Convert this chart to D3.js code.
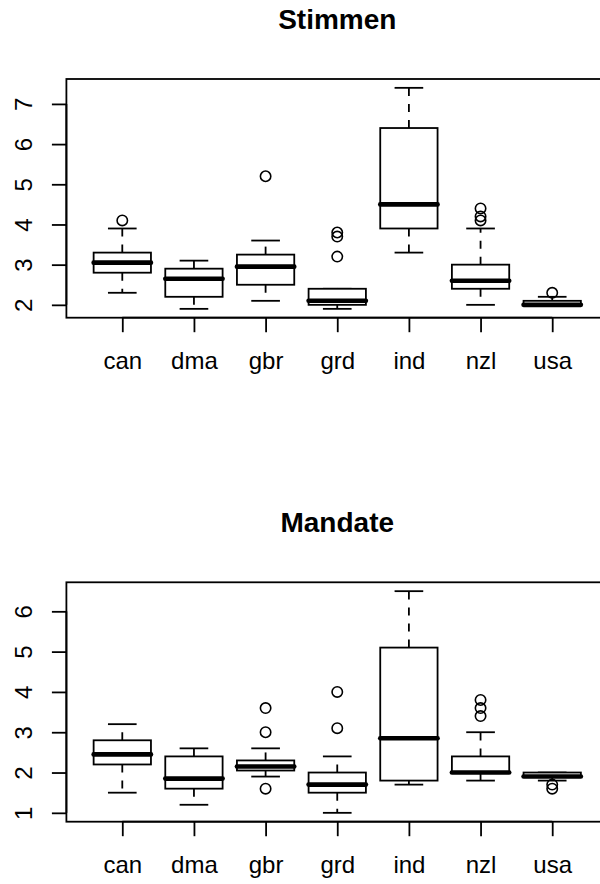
<!DOCTYPE html>
<html><head><meta charset="utf-8">
<script src="https://cdn.jsdelivr.net/npm/d3@7"></script>
<style>html,body{margin:0;padding:0;background:#fff;}svg{display:block;}</style>
</head><body>
<script>
const categories = ["can","dma","gbr","grd","ind","nzl","usa"];
// Stimmen: lower whisker, Q1, median, Q3, upper whisker
const stimmenLow    = [2.3, 1.9, 2.1, 1.9, 3.3, 2.0, 2.0];
const stimmenQ1     = [2.8, 2.2, 2.5, 2.0, 3.9, 2.4, 2.0];
const stimmenMedian = [3.05,2.65,2.95,2.1, 4.5, 2.6, 2.0];
const stimmenQ3     = [3.3, 2.9, 3.25,2.4, 6.4, 3.0, 2.1];
const stimmenHigh   = [3.9, 3.1, 3.6, 2.4, 7.4, 3.9, 2.2];
const stimmenOut    = [[4.1],[],[5.2],[3.2,3.7,3.8],[],[4.1,4.2,4.4],[2.3]];
// Mandate
const mandateLow    = [1.5, 1.2, 1.9, 1.0, 1.7, 1.8, 1.8];
const mandateQ1     = [2.2, 1.6, 2.05,1.5, 1.8, 2.0, 1.9];
const mandateMedian = [2.45,1.85,2.15,1.7, 2.85,2.0, 1.9];
const mandateQ3     = [2.8, 2.4, 2.3, 2.0, 5.1, 2.4, 2.0];
const mandateHigh   = [3.2, 2.6, 2.6, 2.4, 6.5, 3.0, 2.0];
const mandateOut    = [[],[],[1.6,3.0,3.6],[3.1,4.0],[],[3.4,3.6,3.8],[1.6,1.7]];
const stimmenTicks = [2,3,4,5,6,7];
const mandateTicks = [1,2,3,4,5,6];

const W = 600, H = 884;
const svg = d3.select("body").append("svg").attr("width", W).attr("height", H);
svg.append("rect").attr("width", W).attr("height", H).attr("fill", "#fff");

const FONT = "'Liberation Sans', Arial, Helvetica, sans-serif";
const LW = 1.8;

function panel(opt) {
  const {title, top, bottom, yDomain, ticks, low, q1, med, q3, high, outs} = opt;
  const x = d3.scaleLinear().domain([0.22, 7.78]).range([66.4, 608.1]);
  const y = d3.scaleLinear().domain(yDomain).range([bottom, top]);
  const g = svg.append("g");
  const step = x(2) - x(1);
  const bw = 0.8 * step, sw = 0.5 * bw;

  // title
  g.append("text").attr("x", (x.range()[0] + x.range()[1]) / 2).attr("y", top - 50.3)
    .attr("text-anchor", "middle").attr("font-family", FONT).attr("font-weight", "bold")
    .attr("font-size", 28).text(title);

  categories.forEach((c, i) => {
    const cx = x(i + 1);
    const bg = g.append("g").attr("stroke", "#000").attr("fill", "none");
    // whiskers (dashed)
    bg.append("line").attr("x1", cx).attr("x2", cx).attr("y1", y(q3[i])).attr("y2", y(high[i]))
      .attr("stroke-width", LW).attr("stroke-dasharray", "8,8");
    bg.append("line").attr("x1", cx).attr("x2", cx).attr("y1", y(q1[i])).attr("y2", y(low[i]))
      .attr("stroke-width", LW).attr("stroke-dasharray", "8,8");
    // staples
    [low[i], high[i]].forEach(v => {
      bg.append("line").attr("x1", cx - sw / 2).attr("x2", cx + sw / 2)
        .attr("y1", y(v)).attr("y2", y(v)).attr("stroke-width", LW);
    });
    // box
    bg.append("rect").attr("x", cx - bw / 2).attr("width", bw)
      .attr("y", y(q3[i])).attr("height", Math.max(0, y(q1[i]) - y(q3[i])))
      .attr("fill", "#fff").attr("stroke-width", LW);
    // median
    bg.append("line").attr("x1", cx - bw / 2).attr("x2", cx + bw / 2)
      .attr("y1", y(med[i])).attr("y2", y(med[i])).attr("stroke-width", 4.6)
      .attr("stroke-linecap", "round");
    // outliers
    outs[i].forEach(v => {
      bg.append("circle").attr("cx", cx).attr("cy", y(v)).attr("r", 5.2)
        .attr("stroke-width", 1.6).attr("fill", "none");
    });
  });

  // frame
  g.append("rect").attr("x", x.range()[0]).attr("y", top)
    .attr("width", x.range()[1] - x.range()[0]).attr("height", bottom - top)
    .attr("fill", "none").attr("stroke", "#000").attr("stroke-width", LW);

  // y axis
  const yAxis = d3.axisLeft(y).tickValues(ticks).tickSize(14.5).tickSizeOuter(0).tickPadding(0)
    .tickFormat(d3.format("d"));
  const ya = g.append("g").attr("transform", `translate(${x.range()[0]},0)`).call(yAxis);
  ya.select(".domain").attr("d", `M0,${y(ticks[0])}V${y(ticks[ticks.length-1])}`)
    .attr("stroke-width", LW);
  ya.selectAll(".tick line").attr("stroke-width", LW);
  ya.selectAll(".tick text").attr("font-family", FONT).attr("font-size", 24).attr("fill", "#000")
    .attr("x", 0).attr("dy", null).attr("text-anchor", "middle")
    .attr("transform", `translate(${32 - x.range()[0]},0) rotate(-90)`);

  // x axis
  const xAxis = d3.axisBottom(x).tickValues(d3.range(1, categories.length + 1))
    .tickSize(14.5).tickSizeOuter(0).tickPadding(0).tickFormat(d => categories[d - 1]);
  const xa = g.append("g").attr("transform", `translate(0,${bottom})`).call(xAxis);
  xa.select(".domain").attr("d", `M${x(1)},0H${x(categories.length)}`).attr("stroke-width", LW);
  xa.selectAll(".tick line").attr("stroke-width", LW);
  xa.selectAll(".tick text").attr("font-family", FONT).attr("font-size", 24).attr("fill", "#000")
    .attr("y", 51.6).attr("dy", null);
}

panel({title: "Stimmen", top: 79, bottom: 317.7, yDomain: [1.68, 7.62], ticks: stimmenTicks,
  low: stimmenLow, q1: stimmenQ1, med: stimmenMedian, q3: stimmenQ3, high: stimmenHigh, outs: stimmenOut});
panel({title: "Mandate", top: 582.3, bottom: 821.7, yDomain: [0.78, 6.72], ticks: mandateTicks,
  low: mandateLow, q1: mandateQ1, med: mandateMedian, q3: mandateQ3, high: mandateHigh, outs: mandateOut});
</script>
</body></html>
